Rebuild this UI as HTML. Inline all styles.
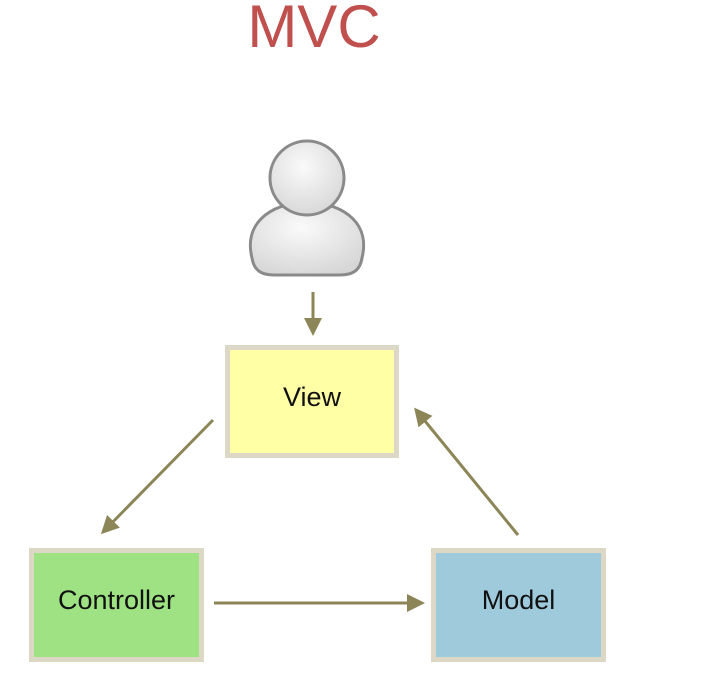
<!DOCTYPE html>
<html><head><style>
html,body{margin:0;padding:0;background:#fff;width:710px;height:678px;overflow:hidden;font-family:"Liberation Sans",sans-serif}
.t{position:absolute;left:0;top:-8px;width:628px;text-align:center;font-size:60px;color:#c0504d}
.b{position:absolute;box-sizing:border-box;border:5px solid #ddd8c6;text-align:center;font-family:"Liberation Sans",sans-serif;font-size:27px;color:#111;padding-top:32px}
</style></head><body>
<div class="t">MVC</div>
<svg width="710" height="678" style="position:absolute;left:0;top:0">
<defs>
<radialGradient id="g" cx="0.45" cy="0.35" r="0.7"><stop offset="0" stop-color="#fafafa"/><stop offset="1" stop-color="#d6d6d6"/></radialGradient>
<marker id="a" markerWidth="6" markerHeight="6" refX="5" refY="3" orient="auto" markerUnits="strokeWidth"><path d="M0,0 L6,3 L0,6 z" fill="#8c8558"/></marker>
</defs>
<path d="M252,258 C244,226 266,204 307,202 C348,204 370,226 362,258 C360,271 352,275 340,275 L274,275 C262,275 254,271 252,258 Z" fill="url(#g)" stroke="#8a8a8a" stroke-width="3"/>
<circle cx="307" cy="178" r="37" fill="url(#g)" stroke="#8a8a8a" stroke-width="3"/>
<g stroke="#8c8558" stroke-width="3" fill="none">
<line x1="313" y1="292" x2="313" y2="333" marker-end="url(#a)"/>
<line x1="213" y1="420" x2="103" y2="532" marker-end="url(#a)"/>
<line x1="214" y1="603" x2="422" y2="603" marker-end="url(#a)"/>
<line x1="518" y1="535" x2="416" y2="410" marker-end="url(#a)"/>
</g>
</svg>
<div class="b" style="left:225px;top:345px;width:174px;height:113px;background:#ffffa6">View</div>
<div class="b" style="left:29px;top:548px;width:175px;height:114px;background:#9ee283">Controller</div>
<div class="b" style="left:431px;top:548px;width:175px;height:114px;background:#9fcadb">Model</div>
</body></html>
